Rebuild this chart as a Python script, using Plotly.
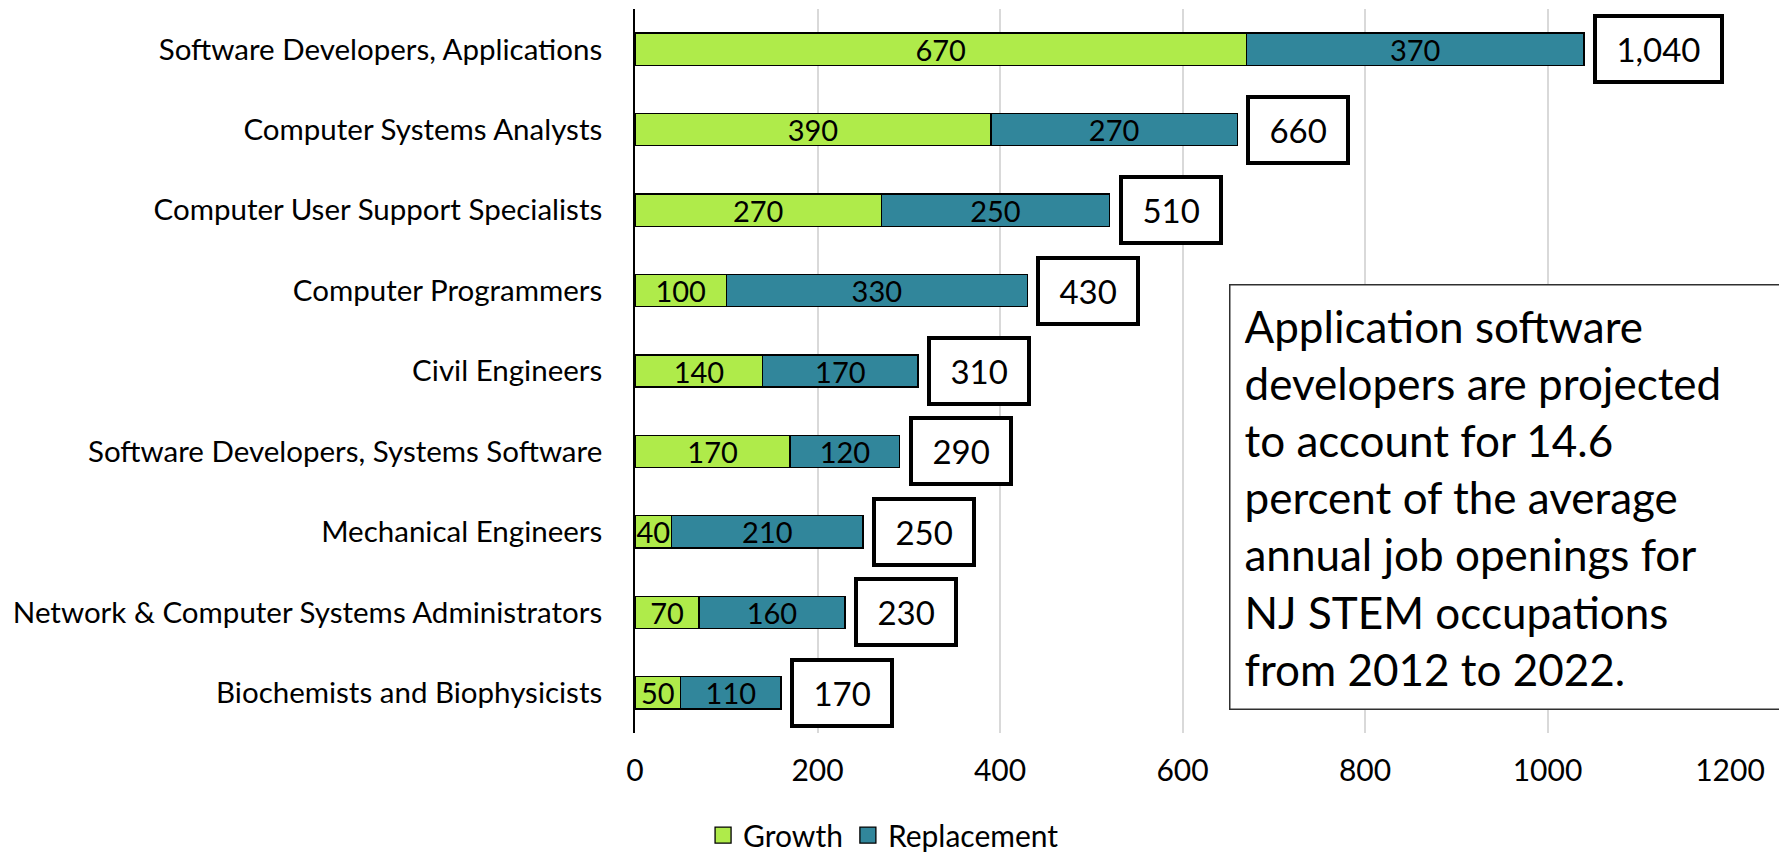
import plotly.graph_objects as go

occupations = [
    "Software Developers, Applications",
    "Computer Systems Analysts",
    "Computer User Support Specialists",
    "Computer Programmers",
    "Civil Engineers",
    "Software Developers, Systems Software",
    "Mechanical Engineers",
    "Network & Computer Systems Administrators",
    "Biochemists and Biophysicists",
]
growth = [670, 390, 270, 100, 140, 170, 40, 70, 50]
replacement = [370, 270, 250, 330, 170, 120, 210, 160, 110]
# totals as printed in the boxes (rounded separately in the source)
total_labels = ["1,040", "660", "510", "430", "310", "290", "250", "230", "170"]
x_ticks = [0, 200, 400, 600, 800, 1000, 1200]

note = ("Application software<br>developers are projected<br>to account for 14.6<br>"
        "percent of the average<br>annual job openings for<br>NJ STEM occupations<br>"
        "from 2012 to 2022.")

FONT = "Lato"
GREEN = "#AFEB4A"
TEAL = "#31869B"

fig = go.Figure()
fig.add_trace(go.Bar(
    y=occupations, x=growth, name="Growth", orientation="h", showlegend=False,
    marker=dict(color=GREEN, line=dict(color="black", width=1.3)),
    text=[str(v) for v in growth], textposition="inside",
    insidetextanchor="middle", textangle=0,
    textfont=dict(family=FONT, size=29, color="black"),
))
fig.add_trace(go.Bar(
    y=occupations, x=replacement, name="Replacement", orientation="h", showlegend=False,
    marker=dict(color=TEAL, line=dict(color="black", width=1.3)),
    text=[str(v) for v in replacement], textposition="inside",
    insidetextanchor="middle", textangle=0,
    textfont=dict(family=FONT, size=29, color="black"),
))

# legend entries with bigger square swatches
for name, col in [("Growth", GREEN), ("Replacement", TEAL)]:
    fig.add_trace(go.Scatter(
        x=[None], y=[None], mode="markers", name=name,
        marker=dict(symbol="square", size=16, color=col, line=dict(color="black", width=1.3)),
    ))

# boxed totals to the right of each bar
for occ, g, r, lab in zip(occupations, growth, replacement, total_labels):
    fig.add_annotation(
        x=g + r, y=occ, xref="x", yref="y",
        text="\u00a0" + lab + "\u00a0", showarrow=False,
        xanchor="left", yanchor="middle", xshift=9,
        font=dict(family=FONT, size=33, color="black"),
        bgcolor="white", bordercolor="black", borderwidth=4, borderpad=11,
    )

fig.add_annotation(
    x=0.5425, y=0.6204, xref="paper", yref="paper",
    xanchor="left", yanchor="top", showarrow=False,
    text=note, align="left", width=530,
    font=dict(family=FONT, size=44, color="black"),
    bgcolor="white", bordercolor="#303030", borderwidth=1.5, borderpad=14,
)

# page body has an 8px margin, so the figure is 8px smaller and offset
fig.update_layout(
    barmode="stack", bargap=0.6,
    width=1779, height=845,
    margin=dict(l=627, r=57, t=1, b=120, autoexpand=False),
    plot_bgcolor="white", paper_bgcolor="white",
    font=dict(family=FONT, size=28, color="black"),
    uniformtext=dict(minsize=29, mode="show"),
    legend=dict(orientation="h", x=0.227, xanchor="center", y=-0.141, yanchor="middle",
                font=dict(family=FONT, size=30, color="black"), traceorder="normal"),
    showlegend=True,
)
fig.update_xaxes(
    range=[0, 1200], tickvals=x_ticks, showgrid=True, gridcolor="#D9D9D9", gridwidth=2,
    zeroline=False, showline=False, ticks="", ticklabelstandoff=17,
    tickfont=dict(family=FONT, size=30, color="black"),
)
fig.update_yaxes(
    autorange="reversed", showline=True, linecolor="black", linewidth=1.7,
    showgrid=False, ticks="", ticklabelstandoff=25,
    tickfont=dict(family=FONT, size=29.5, color="black"),
)

fig.write_html("out.html")
